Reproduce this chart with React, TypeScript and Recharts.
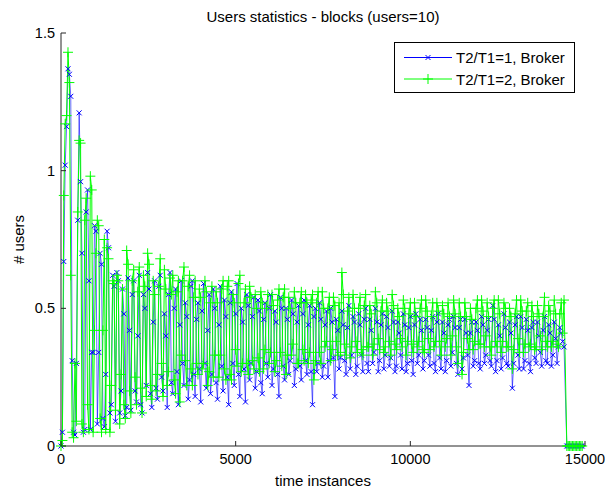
import { Legend, Line, LineChart, XAxis, YAxis } from "recharts";

// samples are taken every SAMPLE_STEP time instances, starting at 0
const SAMPLE_STEP = 40;

const BLUE_VALUES = [
  0, 0.05, 0.67, 1.02, 1.16, 1.37, 1.35, 1.27, 0.31, 0.05,
  0.04, 0.3, 0.82, 1.21, 0.96, 0.7, 0.05, 0.06, 0.85, 0.93,
  0.6, 0.06, 0.34, 0.34, 0.8, 0.78, 0.08, 0.34, 0.7, 0.66,
  0.1, 0.07, 0.26, 0.78, 0.72, 0.12, 0.15, 0.62, 0.58, 0.09,
  0.63, 0.6, 0.12, 0.2, 0.57, 0.48, 0.11, 0.14, 0.61, 0.42,
  0.13, 0.55, 0.6, 0.2, 0.16, 0.4, 0.62, 0.15, 0.12, 0.55,
  0.5, 0.22, 0.63, 0.57, 0.19, 0.14, 0.45, 0.6, 0.21, 0.17,
  0.58, 0.62, 0.25, 0.2, 0.48, 0.4, 0.14, 0.55, 0.63, 0.23,
  0.19, 0.5, 0.57, 0.27, 0.15, 0.44, 0.6, 0.3, 0.22, 0.52,
  0.47, 0.17, 0.24, 0.58, 0.6, 0.26, 0.18, 0.46, 0.52, 0.28,
  0.16, 0.49, 0.59, 0.3, 0.21, 0.42, 0.55, 0.19, 0.26, 0.57,
  0.5, 0.23, 0.17, 0.44, 0.58, 0.29, 0.2, 0.53, 0.47, 0.25,
  0.15, 0.52, 0.56, 0.3, 0.22, 0.48, 0.59, 0.26, 0.18, 0.5,
  0.45, 0.28, 0.16, 0.55, 0.51, 0.24, 0.3, 0.47, 0.54, 0.21,
  0.27, 0.53, 0.49, 0.23, 0.19, 0.46, 0.52, 0.3, 0.25, 0.5,
  0.55, 0.22, 0.28, 0.49, 0.45, 0.26, 0.18, 0.54, 0.5, 0.29,
  0.24, 0.5, 0.46, 0.26, 0.31, 0.53, 0.48, 0.22, 0.28, 0.45,
  0.51, 0.29, 0.24, 0.48, 0.53, 0.31, 0.26, 0.44, 0.51, 0.27,
  0.15, 0.47, 0.5, 0.27, 0.3, 0.52, 0.46, 0.25, 0.29, 0.44,
  0.49, 0.25, 0.31, 0.5, 0.45, 0.32, 0.18, 0.46, 0.42, 0.28,
  0.32, 0.49, 0.44, 0.31, 0.26, 0.43, 0.51, 0.28, 0.33, 0.47,
  0.45, 0.26, 0.29, 0.48, 0.44, 0.33, 0.27, 0.46, 0.5, 0.3,
  0.27, 0.46, 0.42, 0.3, 0.34, 0.5, 0.45, 0.27, 0.31, 0.44,
  0.48, 0.28, 0.33, 0.47, 0.43, 0.29, 0.32, 0.49, 0.45, 0.27,
  0.29, 0.45, 0.41, 0.33, 0.28, 0.48, 0.44, 0.27, 0.3, 0.43,
  0.47, 0.31, 0.26, 0.44, 0.48, 0.3, 0.33, 0.46, 0.42, 0.28,
  0.31, 0.46, 0.43, 0.33, 0.29, 0.42, 0.47, 0.3, 0.27, 0.45,
  0.48, 0.32, 0.28, 0.45, 0.41, 0.27, 0.31, 0.44, 0.46, 0.29,
  0.34, 0.47, 0.43, 0.3, 0.26, 0.43, 0.46, 0.28, 0.32, 0.46,
  0.41, 0.33, 0.22, 0.41, 0.45, 0.29, 0.31, 0.45, 0.42, 0.3,
  0.28, 0.47, 0.44, 0.3, 0.33, 0.42, 0.46, 0.31, 0.29, 0.51,
  0.46, 0.27, 0.31, 0.44, 0.4, 0.28, 0.32, 0.48, 0.43, 0.3,
  0.29, 0.45, 0.41, 0.21, 0.3, 0.44, 0.47, 0.33, 0.28, 0.47,
  0.43, 0.28, 0.31, 0.46, 0.42, 0.3, 0.27, 0.43, 0.45, 0.32,
  0.3, 0.45, 0.4, 0.34, 0.29, 0.42, 0.47, 0.31, 0.3, 0.44,
  0.41, 0.29, 0.33, 0.45, 0.39, 0.3, 0.36, 0.43, 0.41, 0.38,
  0.36,
];

const GREEN_VALUES = [
  0, 0.02, 0.91, 1.17, 1.2, 1.43, 1.32, 0.62, 0.05, 0.03,
  0.3, 0.09, 0.85, 1.11, 1.1, 0.08, 0.05, 0.82, 0.9, 0.15,
  0.06, 0.98, 0.93, 0.05, 0.42, 0.7, 0.82, 0.8, 0.1, 0.05,
  0.42, 0.75, 0.06, 0.72, 0.68, 0.05, 0.22, 0.6, 0.59, 0.13,
  0.62, 0.6, 0.08, 0.26, 0.57, 0.15, 0.1, 0.71, 0.66, 0.2,
  0.12, 0.6, 0.64, 0.25, 0.15, 0.56, 0.65, 0.21, 0.12, 0.62,
  0.58, 0.18, 0.7, 0.66, 0.22, 0.17, 0.6, 0.55, 0.2, 0.26,
  0.58, 0.68, 0.3, 0.18, 0.64, 0.57, 0.22, 0.27, 0.61, 0.55,
  0.62, 0.24, 0.19, 0.56, 0.6, 0.16, 0.33, 0.6, 0.65, 0.31,
  0.22, 0.58, 0.62, 0.28, 0.22, 0.54, 0.6, 0.3, 0.26, 0.57,
  0.54, 0.28, 0.3, 0.6, 0.56, 0.22, 0.27, 0.52, 0.58, 0.25,
  0.33, 0.56, 0.52, 0.25, 0.33, 0.57, 0.6, 0.28, 0.24, 0.58,
  0.6, 0.26, 0.24, 0.55, 0.52, 0.35, 0.29, 0.59, 0.62, 0.27,
  0.3, 0.52, 0.57, 0.3, 0.26, 0.58, 0.54, 0.31, 0.28, 0.55,
  0.5, 0.32, 0.27, 0.56, 0.52, 0.28, 0.35, 0.5, 0.55, 0.3,
  0.34, 0.55, 0.51, 0.27, 0.31, 0.53, 0.57, 0.34, 0.29, 0.54,
  0.57, 0.26, 0.33, 0.54, 0.5, 0.33, 0.37, 0.56, 0.52, 0.3,
  0.3, 0.52, 0.56, 0.35, 0.31, 0.55, 0.52, 0.3, 0.34, 0.53,
  0.55, 0.24, 0.31, 0.52, 0.56, 0.34, 0.3, 0.56, 0.5, 0.36,
  0.38, 0.5, 0.54, 0.31, 0.35, 0.54, 0.51, 0.38, 0.33, 0.52,
  0.34, 0.63, 0.55, 0.37, 0.33, 0.49, 0.54, 0.32, 0.36, 0.55,
  0.5, 0.38, 0.34, 0.5, 0.54, 0.35, 0.33, 0.51, 0.55, 0.36,
  0.36, 0.51, 0.48, 0.33, 0.37, 0.56, 0.52, 0.39, 0.35, 0.49,
  0.53, 0.34, 0.36, 0.52, 0.49, 0.38, 0.33, 0.55, 0.51, 0.37,
  0.35, 0.5, 0.47, 0.39, 0.36, 0.53, 0.5, 0.33, 0.38, 0.48,
  0.52, 0.37, 0.34, 0.52, 0.47, 0.36, 0.38, 0.5, 0.53, 0.35,
  0.34, 0.53, 0.49, 0.39, 0.35, 0.47, 0.52, 0.36, 0.38, 0.52,
  0.49, 0.38, 0.33, 0.51, 0.48, 0.36, 0.39, 0.52, 0.47, 0.33,
  0.4, 0.53, 0.48, 0.36, 0.3, 0.52, 0.47, 0.26, 0.34, 0.52,
  0.47, 0.39, 0.35, 0.5, 0.46, 0.35, 0.38, 0.5, 0.53, 0.37,
  0.37, 0.53, 0.49, 0.36, 0.4, 0.52, 0.47, 0.36, 0.33, 0.5,
  0.53, 0.38, 0.36, 0.53, 0.48, 0.34, 0.38, 0.52, 0.5, 0.36,
  0.36, 0.5, 0.47, 0.28, 0.35, 0.48, 0.53, 0.39, 0.34, 0.53,
  0.49, 0.34, 0.37, 0.49, 0.52, 0.36, 0.37, 0.51, 0.47, 0.35,
  0.36, 0.51, 0.48, 0.4, 0.35, 0.47, 0.54, 0.38, 0.36, 0.51,
  0.49, 0.36, 0.38, 0.53, 0.48, 0.37, 0.36, 0.48, 0.52, 0.41,
  0.53,
];

// after the run ends both series sit at zero
const TAIL_X = [14480, 14520, 14560, 14600, 14640, 14680, 14720, 14760, 14800, 14840, 14880, 14920];
const TAIL_BLUE = [0, 0, 0, 0, 0, 0, 0, 0, 0, 0, 0, 0];
const TAIL_GREEN = [0, 0, 0, 0, 0, 0, 0, 0, 0, 0, 0, 0];

const X_TICKS = [0, 5000, 10000, 15000];
const Y_TICKS = [0, 0.5, 1, 1.5];

const SERIES = [
  { key: "blue", label: "T2/T1=1, Broker", color: "#0000ff", width: 0.6, marker: "x" },
  { key: "green", label: "T2/T1=2, Broker", color: "#00ff00", width: 1, marker: "+" },
] as const;

const FONT = "'Liberation Sans', Arial, sans-serif";
const AXIS_COLOR = "#262626";

const rows = [
  ...BLUE_VALUES.map((v, i) => ({ x: i * SAMPLE_STEP, blue: v, green: GREEN_VALUES[i] })),
  ...TAIL_X.map((x, i) => ({ x, blue: TAIL_BLUE[i], green: TAIL_GREEN[i] })),
];

function markerPath(kind: string, cx: number, cy: number) {
  if (kind === "x") {
    const r = 2.5;
    return `M${cx - r},${cy - r}L${cx + r},${cy + r}M${cx - r},${cy + r}L${cx + r},${cy - r}`;
  }
  const r = 5;
  return `M${cx - r},${cy}L${cx + r},${cy}M${cx},${cy - r}L${cx},${cy + r}`;
}

function makeDot(kind: string, color: string) {
  return (props: any) => {
    const { cx, cy, index } = props;
    if (cx == null || cy == null) return <g key={`${kind}-${index}`} />;
    return (
      <path
        key={`${kind}-${index}`}
        d={markerPath(kind, cx, cy)}
        stroke={color}
        strokeWidth={1}
        fill="none"
      />
    );
  };
}

function XTick({ x, y, payload }: any) {
  return (
    <g>
      <line x1={x} x2={x} y1={y} y2={y - 5} stroke={AXIS_COLOR} />
      <text x={x} y={y + 18} textAnchor="middle" fontSize={14.5} fill="#000" fontFamily={FONT}>
        {payload.value}
      </text>
    </g>
  );
}

function YTick({ x, y, payload }: any) {
  return (
    <g>
      <line x1={x} x2={x + 5} y1={y} y2={y} stroke={AXIS_COLOR} />
      <text x={x - 6} y={y + 5} textAnchor="end" fontSize={14.5} fill="#000" fontFamily={FONT}>
        {payload.value}
      </text>
    </g>
  );
}

function XLabel({ viewBox }: any) {
  if (!viewBox) return null;
  return (
    <text
      x={viewBox.x + viewBox.width / 2}
      y={viewBox.y + viewBox.height - 3}
      textAnchor="middle"
      fontSize={15}
      fill="#000"
      fontFamily={FONT}
    >
      time instances
    </text>
  );
}

function MatlabLegend() {
  return (
    <svg width={182} height={51} style={{ display: "block" }}>
      <rect x={0.5} y={0.5} width={180} height={50} fill="#fff" stroke="#000" />
      {SERIES.map((s, i) => {
        const y = 15.5 + i * 21.5;
        return (
          <g key={s.key}>
            <line x1={10} x2={58} y1={y} y2={y} stroke={s.color} strokeWidth={1} />
            <path d={markerPath(s.marker, 34, y)} stroke={s.color} fill="none" />
            <text x={62} y={y + 5.5} fontSize={15} fill="#000" fontFamily={FONT}>
              {s.label}
            </text>
          </g>
        );
      })}
    </svg>
  );
}

export default function App() {
  return (
    <div style={{ width: 589, height: 473 }}>
      <div style={{ position: "fixed", left: 0, top: 0, width: 605, height: 489, background: "#fff" }}>
        <div
          style={{
            position: "absolute",
            left: 61,
            width: 524,
            top: 9,
            textAlign: "center",
            fontFamily: FONT,
            fontSize: 15,
            lineHeight: "15px",
            color: "#000",
          }}
        >
          Users statistics - blocks (users=10)
        </div>
        <LineChart
          width={605}
          height={489}
          data={rows}
          margin={{ top: 33, right: 20, bottom: 0, left: 0 }}
        >
          <XAxis
            dataKey="x"
            type="number"
            domain={[0, 15000]}
            ticks={X_TICKS}
            height={43}
            tickSize={0}
            tickMargin={0}
            tickLine={false}
            tick={<XTick />}
            axisLine={{ stroke: AXIS_COLOR }}
            label={{ content: (props: any) => <XLabel {...props} /> }}
          />
          <YAxis
            type="number"
            domain={[0, 1.5]}
            ticks={Y_TICKS}
            width={61}
            tickSize={0}
            tickMargin={0}
            tickLine={false}
            tick={<YTick />}
            axisLine={{ stroke: AXIS_COLOR }}
            label={{
              value: "# users",
              angle: -90,
              position: "center",
              dx: -12,
              fill: "#000",
              fontSize: 15,
              fontFamily: FONT,
            }}
          />
          <Legend
            layout="horizontal"
            align="center"
            verticalAlign="middle"
            content={() => <MatlabLegend />}
            wrapperStyle={{ position: "absolute", left: 394, top: 42, width: 182, height: 51, margin: 0, padding: 0 }}
          />
          {SERIES.map((s) => (
            <Line
              key={s.key}
              type="linear"
              dataKey={s.key}
              name={s.label}
              stroke={s.color}
              strokeWidth={s.width}
              dot={makeDot(s.marker, s.color)}
              activeDot={false}
              isAnimationActive={false}
            />
          ))}
        </LineChart>
      </div>
    </div>
  );
}
